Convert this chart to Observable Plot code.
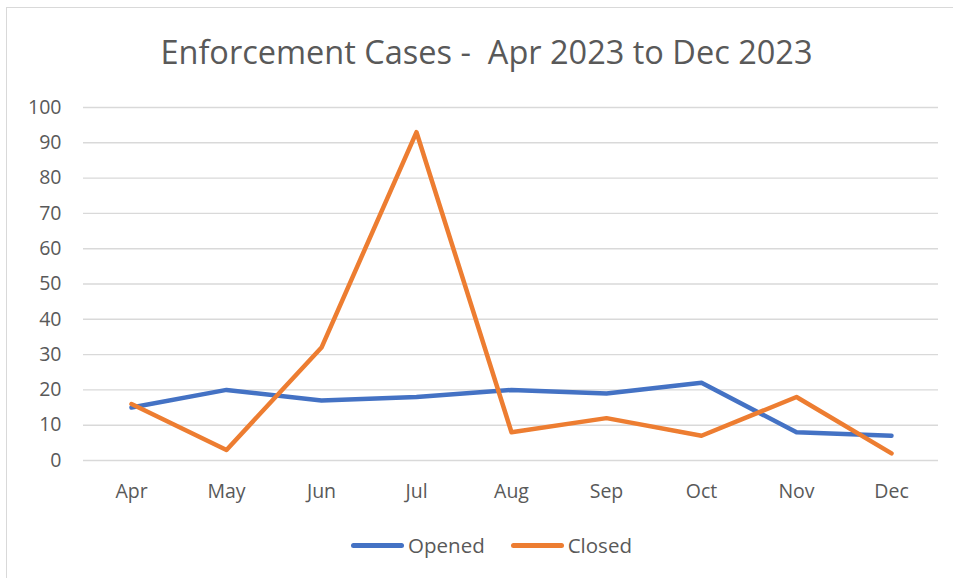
<!DOCTYPE html>
<html>
<head>
<meta charset="utf-8">
<script src="https://cdn.jsdelivr.net/npm/d3@7"></script>
<script src="https://cdn.jsdelivr.net/npm/@observablehq/plot@0.6"></script>
<style>
  body { margin: 0; background: #fff; font-family: "Open Sans", Lato, sans-serif; }
  #frame { position: absolute; left: 6px; top: 7px; width: 960px; height: 590px; border: 1.5px solid #d9d9d9; box-sizing: border-box; }
  #wrap { position: absolute; left: 0; top: 0; width: 953px; height: 578px; }
  #title { position: absolute; left: 10px; top: 0; width: 953px; height: 85px; text-align: center; font-size: 32.5px; line-height: 104px; color: #595959; white-space: pre; }
  #chart { position: absolute; left: 0; top: 85px; }
  #legend { position: absolute; left: 15px; top: 530px; width: 953px; height: 30px; display: flex; justify-content: center; align-items: center; font-size: 20.5px; color: #595959; }
  .item { display: flex; align-items: center; margin: 0 13px; }
  .swatch { width: 53px; height: 5px; border-radius: 3px; margin-right: 4px; }
</style>
</head>
<body>
<div id="frame"></div>
<div id="wrap">
  <div id="title">Enforcement Cases -  Apr 2023 to Dec 2023</div>
  <div id="chart"></div>
  <div id="legend"></div>
</div>
<script>
const months = ["Apr", "May", "Jun", "Jul", "Aug", "Sep", "Oct", "Nov", "Dec"];
const opened = [15, 20, 17, 18, 20, 19, 22, 8, 7];
const closed = [16, 3, 32, 93, 8, 12, 7, 18, 2];
const seriesNames = ["Opened", "Closed"];
const seriesColors = ["#4472C4", "#ED7D31"];
const yTicks = [0, 10, 20, 30, 40, 50, 60, 70, 80, 90, 100];

const rows = [];
months.forEach((m, i) => rows.push({month: m, value: opened[i], series: "Opened"}));
months.forEach((m, i) => rows.push({month: m, value: closed[i], series: "Closed"}));

const chart = Plot.plot({
  width: 953,
  height: 430,
  marginTop: 22,
  marginBottom: 55,
  marginLeft: 83,
  marginRight: 15,
  style: { fontFamily: '"Open Sans", Lato, sans-serif', fontSize: "19.5px", color: "#595959", background: "transparent", overflow: "visible" },
  x: { type: "point", domain: months, padding: 0.5, label: null, tickSize: 0, tickPadding: 24 },
  y: { domain: [0, 100], ticks: yTicks, label: null, tickSize: 0, tickPadding: 22 },
  color: { domain: seriesNames, range: seriesColors },
  marks: [
    Plot.ruleY(yTicks, { stroke: "#d9d9d9", strokeWidth: 1.4 }),
    Plot.axisY({ ticks: yTicks, tickSize: 0, tickPadding: 22, label: null, fill: "#595959" }),
    Plot.axisX({ tickSize: 0, tickPadding: 24, label: null, fill: "#595959" }),
    Plot.line(rows, { x: "month", y: "value", z: "series", stroke: "series", strokeWidth: 4.5, strokeLinejoin: "round", strokeLinecap: "round" })
  ]
});
document.getElementById("chart").appendChild(chart);

const legend = document.getElementById("legend");
seriesNames.forEach((name, i) => {
  const item = document.createElement("div");
  item.className = "item";
  const sw = document.createElement("div");
  sw.className = "swatch";
  sw.style.background = seriesColors[i];
  const label = document.createElement("span");
  label.textContent = name;
  item.appendChild(sw);
  item.appendChild(label);
  legend.appendChild(item);
});
</script>
</body>
</html>
